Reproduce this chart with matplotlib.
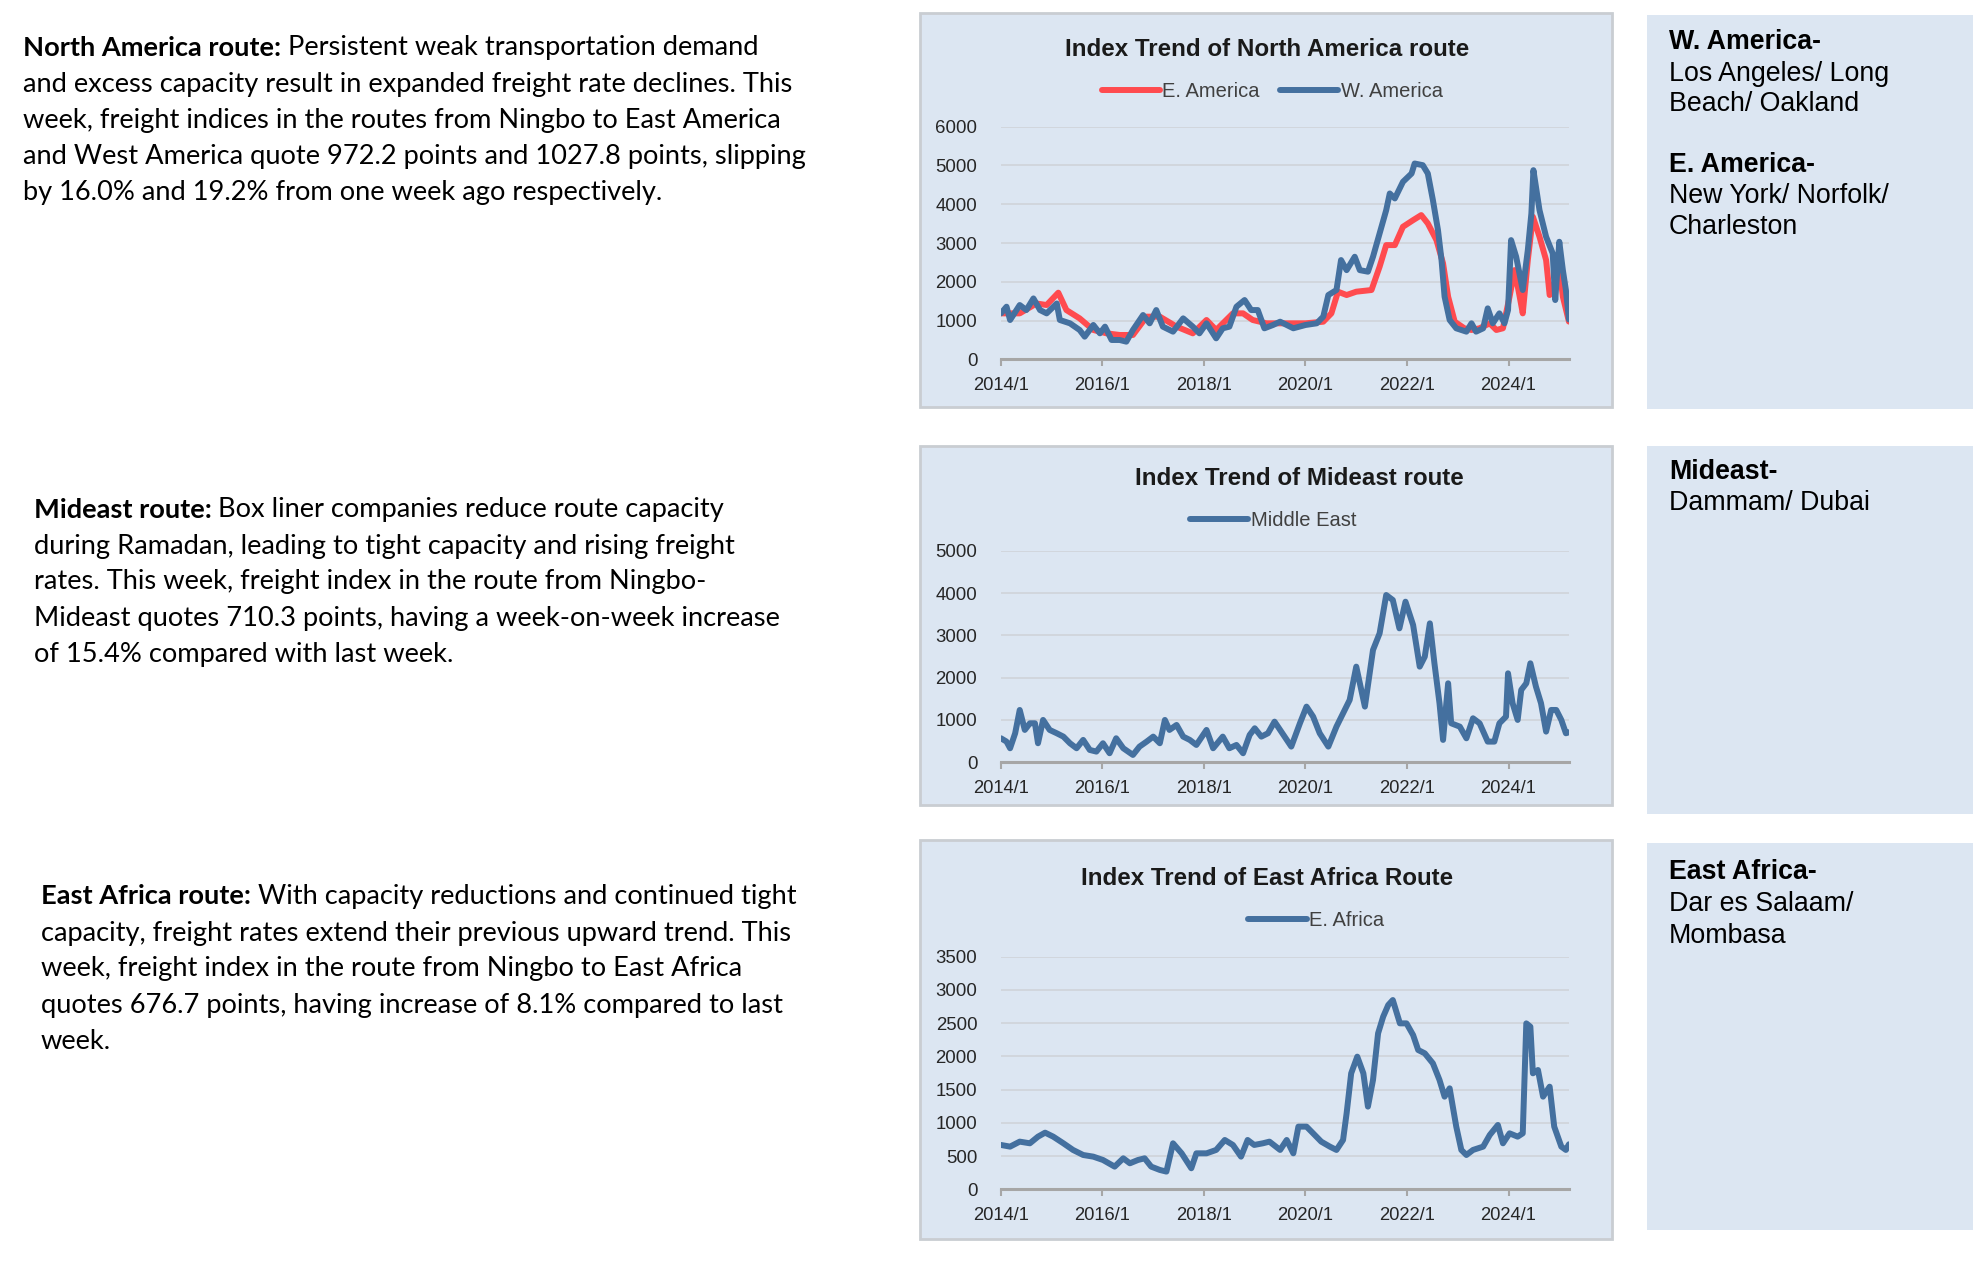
import matplotlib
matplotlib.use("Agg")
import matplotlib.pyplot as plt
from matplotlib.patches import Rectangle

# ---- data (decimal year, index points) ----
west_t = [2014.00, 2014.11, 2014.18, 2014.37, 2014.50, 2014.64, 2014.77, 2014.90, 2015.10, 2015.16,
          2015.36, 2015.55, 2015.65, 2015.82, 2015.95, 2016.05, 2016.18, 2016.34, 2016.47, 2016.60,
          2016.80, 2016.93, 2017.06, 2017.19, 2017.39, 2017.59, 2017.78, 2017.91, 2018.05, 2018.24,
          2018.37, 2018.50, 2018.64, 2018.80, 2018.93, 2019.06, 2019.19, 2019.36, 2019.50, 2019.76,
          2020.00, 2020.22, 2020.35, 2020.45, 2020.61, 2020.70, 2020.81, 2020.97, 2021.07, 2021.23,
          2021.33, 2021.46, 2021.59, 2021.66, 2021.76, 2021.92, 2022.09, 2022.15, 2022.31, 2022.41,
          2022.51, 2022.61, 2022.68, 2022.74, 2022.84, 2022.97, 2023.17, 2023.27, 2023.36, 2023.50,
          2023.59, 2023.69, 2023.82, 2023.92, 2023.99, 2024.05, 2024.15, 2024.28, 2024.38, 2024.45,
          2024.49, 2024.54, 2024.61, 2024.74, 2024.87, 2024.92, 2025.00, 2025.07, 2025.13, 2025.19]
west_v = [1185, 1357, 1014, 1400, 1270, 1570, 1270, 1185, 1440, 1014,
          928, 756, 584, 885, 670, 842, 498, 498, 455, 756,
          1142, 928, 1270, 842, 713, 1056, 842, 670, 928, 541,
          799, 842, 1357, 1529, 1270, 1270, 799, 885, 970, 800,
          885, 928, 1100, 1658, 1787, 2560, 2300, 2646, 2300, 2260,
          2646, 3247, 3848, 4278, 4150, 4579, 4793, 5051, 5008, 4793,
          4106, 3333, 2560, 1615, 1014, 799, 713, 928, 713, 799,
          1314, 928, 1185, 928, 1270, 3075, 2646, 1787, 2818, 3762,
          4879, 4450, 3848, 3161, 2732, 1529, 3032, 2302, 1787, 1028]

east_t = [2014.00, 2014.37, 2014.70, 2014.90, 2015.13, 2015.29, 2015.55, 2015.82, 2016.08, 2016.34,
          2016.60, 2016.87, 2017.13, 2017.46, 2017.78, 2018.05, 2018.24, 2018.57, 2018.77, 2018.96,
          2019.23, 2019.50, 2020.00, 2020.35, 2020.51, 2020.64, 2020.81, 2021.00, 2021.30, 2021.46,
          2021.59, 2021.76, 2021.92, 2022.12, 2022.28, 2022.41, 2022.58, 2022.71, 2022.81, 2022.94,
          2023.13, 2023.27, 2023.43, 2023.63, 2023.76, 2023.89, 2024.02, 2024.12, 2024.22, 2024.28,
          2024.38, 2024.48, 2024.61, 2024.74, 2024.81, 2024.90, 2025.00, 2025.07, 2025.19]
east_v = [1185, 1185, 1440, 1400, 1718, 1270, 1056, 756, 670, 627,
          627, 1100, 1100, 842, 670, 1014, 756, 1185, 1185, 1014,
          928, 928, 928, 970, 1185, 1744, 1658, 1744, 1787, 2388,
          2946, 2946, 3419, 3590, 3720, 3505, 3075, 2474, 1615, 970,
          800, 756, 800, 928, 756, 800, 1615, 2302, 1615, 1185,
          2560, 3676, 3161, 2560, 1658, 1958, 2388, 1615, 972]

mideast_t = [2014.00, 2014.11, 2014.18, 2014.28, 2014.37, 2014.47, 2014.57, 2014.67, 2014.73, 2014.83,
             2014.96, 2015.10, 2015.23, 2015.36, 2015.49, 2015.62, 2015.75, 2015.88, 2016.01, 2016.14,
             2016.27, 2016.41, 2016.60, 2016.73, 2016.87, 2017.00, 2017.13, 2017.23, 2017.32, 2017.46,
             2017.59, 2017.72, 2017.85, 2018.05, 2018.18, 2018.37, 2018.50, 2018.64, 2018.77, 2018.90,
             2019.00, 2019.13, 2019.26, 2019.39, 2019.50, 2019.72, 2019.89, 2020.02, 2020.15, 2020.28,
             2020.45, 2020.61, 2020.74, 2020.87, 2021.00, 2021.17, 2021.33, 2021.46, 2021.59, 2021.72,
             2021.85, 2021.97, 2022.12, 2022.25, 2022.35, 2022.45, 2022.54, 2022.64, 2022.71, 2022.81,
             2022.87, 2023.04, 2023.17, 2023.30, 2023.43, 2023.59, 2023.72, 2023.82, 2023.95, 2023.99,
             2024.08, 2024.18, 2024.25, 2024.35, 2024.43, 2024.54, 2024.64, 2024.74, 2024.84, 2024.94,
             2025.04, 2025.13, 2025.19]
mideast_v = [567, 488, 331, 685, 1236, 764, 921, 921, 449, 1000,
             764, 685, 606, 449, 331, 528, 291, 252, 449, 213,
             567, 331, 173, 370, 488, 606, 449, 1000, 764, 882,
             606, 528, 409, 764, 331, 606, 331, 409, 213, 646,
             803, 606, 685, 960, 764, 370, 921, 1315, 1079, 685,
             370, 842, 1157, 1472, 2260, 1315, 2654, 3047, 3953, 3835,
             3165, 3795, 3244, 2260, 2496, 3283, 2339, 1394, 528, 1866,
             921, 842, 567, 1039, 921, 488, 488, 921, 1079, 2102,
             1394, 1000, 1709, 1866, 2339, 1787, 1394, 724, 1236, 1236,
             1000, 685, 710]

africa_t = [2014.00, 2014.18, 2014.37, 2014.57, 2014.73, 2014.87, 2015.03, 2015.23, 2015.42, 2015.62,
            2015.82, 2016.01, 2016.24, 2016.41, 2016.54, 2016.70, 2016.83, 2016.96, 2017.13, 2017.26,
            2017.39, 2017.56, 2017.75, 2017.85, 2018.05, 2018.24, 2018.41, 2018.57, 2018.73, 2018.86,
            2018.99, 2019.16, 2019.29, 2019.50, 2019.63, 2019.76, 2019.86, 2020.02, 2020.15, 2020.31,
            2020.48, 2020.61, 2020.74, 2020.81, 2020.90, 2021.02, 2021.14, 2021.23, 2021.33, 2021.43,
            2021.53, 2021.63, 2021.72, 2021.86, 2021.99, 2022.12, 2022.22, 2022.35, 2022.51, 2022.64,
            2022.74, 2022.84, 2022.97, 2023.07, 2023.17, 2023.30, 2023.50, 2023.63, 2023.79, 2023.89,
            2024.02, 2024.18, 2024.28, 2024.35, 2024.43, 2024.48, 2024.58, 2024.68, 2024.81, 2024.90,
            2025.04, 2025.13, 2025.19]
africa_v = [667, 642, 717, 692, 792, 852, 792, 692, 592, 516,
            491, 441, 341, 466, 391, 441, 466, 341, 291, 266,
            692, 541, 316, 541, 541, 592, 742, 667, 491, 742,
            667, 692, 717, 592, 742, 541, 943, 943, 842, 717,
            642, 592, 742, 1143, 1745, 1996, 1745, 1244, 1645, 2347,
            2597, 2773, 2848, 2497, 2497, 2321, 2096, 2046, 1895, 1645,
            1394, 1519, 943, 592, 516, 592, 642, 817, 968, 692,
            842, 792, 842, 2497, 2447, 1745, 1795, 1394, 1544, 943,
            642, 592, 677]

year_ticks = [2014, 2016, 2018, 2020, 2022, 2024]
year_labels = ["2014/1", "2016/1", "2018/1", "2020/1", "2022/1", "2024/1"]

RED = "#FF4B4F"
BLUE = "#44709F"
PANEL = "#DCE6F2"
TXT = "#262626"
CHART_FONT = "Liberation Sans"
BODY_FONT = "Lato"

fig = plt.figure(figsize=(19.86, 12.66), dpi=100)


def box(x0, y0, x1, y1, edge=True):
    fig.patches.append(Rectangle((x0, y0), x1 - x0, y1 - y0, transform=fig.transFigure,
                                 facecolor=PANEL, edgecolor="#C9CDD2" if edge else "none",
                                 linewidth=2.0 if edge else 0, zorder=-5))


def chart(rect, series, ymax, ystep, title, title_x, title_y, leg_x, leg_y):
    ax = fig.add_axes(rect)
    ax.set_zorder(2)
    ax.set_facecolor("none")
    for t, v, c, lab in series:
        ax.plot(t, v, color=c, lw=4.3, label=lab, solid_capstyle="round",
                solid_joinstyle="round", zorder=3)
    ax.set_xlim(2014.0, 2025.19)
    ax.set_ylim(0, ymax)
    ax.set_yticks(range(0, ymax + 1, ystep))
    ax.set_xticks(year_ticks)
    ax.set_xticklabels(year_labels)
    for y in range(ystep, ymax + 1, ystep):
        ax.axhline(y, color="#D0D5DB", lw=1.3, zorder=1)
    for s in ["top", "right", "left"]:
        ax.spines[s].set_visible(False)
    ax.spines["bottom"].set_color("#A6A6A6")
    ax.spines["bottom"].set_linewidth(2.2)
    ax.tick_params(axis="y", length=0, pad=17, labelsize=13.4, labelcolor=TXT)
    ax.tick_params(axis="x", length=5, width=1.5, color="#A6A6A6", direction="out",
                   pad=8, labelsize=13.2, labelcolor=TXT)
    for lbl in ax.get_xticklabels() + ax.get_yticklabels():
        lbl.set_fontfamily(CHART_FONT)
    fig.text(title_x, title_y, title, ha="center", va="center", fontsize=17.4,
             fontweight="bold", family=CHART_FONT, color="#1A1A1A")
    ax.legend(loc="center", bbox_to_anchor=(leg_x, leg_y), bbox_transform=fig.transFigure,
              ncol=len(series), frameon=False, handlelength=2.9, handletextpad=0.12,
              columnspacing=1.0, prop={"family": CHART_FONT, "size": 14.5},
              labelcolor="#404040")
    return ax


# panels behind the charts and the port boxes
box(0.4632, 0.6785, 0.8116, 0.9897)
box(0.4632, 0.3641, 0.8116, 0.6477)
box(0.4632, 0.0213, 0.8116, 0.3365)
box(0.8293, 0.6769, 0.9934, 0.9882, edge=False)
box(0.8293, 0.3570, 0.9934, 0.6477, edge=False)
box(0.8293, 0.0284, 0.9934, 0.3341, edge=False)

chart([0.5040, 0.7162, 0.2860, 0.1837],
      [(east_t, east_v, RED, "E. America"), (west_t, west_v, BLUE, "W. America")],
      6000, 1000, "Index Trend of North America route", 0.638, 0.961, 0.6406, 0.928)
chart([0.5040, 0.3979, 0.2860, 0.1671],
      [(mideast_t, mideast_v, BLUE, "Middle East")],
      5000, 1000, "Index Trend of Mideast route", 0.6545, 0.622, 0.641, 0.589)
chart([0.5040, 0.0606, 0.2860, 0.1837],
      [(africa_t, africa_v, BLUE, "E. Africa")],
      3500, 500, "Index Trend of East Africa Route", 0.638, 0.306, 0.6628, 0.273)

# ---- commentary on the left ----
BODY = 19.6


def para(x, ys, bold, first, rest):
    t = fig.text(x, ys[0], bold, fontsize=BODY, fontweight="bold", family=BODY_FONT,
                 color="black", va="center")
    fig.add_artist(plt.Annotation(first, xy=(1, 0.5), xycoords=t, va="center",
                                  fontsize=BODY, family=BODY_FONT, color="black"))
    for y, line in zip(ys[1:], rest):
        fig.text(x, y, line, fontsize=BODY, family=BODY_FONT, color="black", va="center")


para(0.0116, [0.9621, 0.9333, 0.9048, 0.8760, 0.8476], "North America route: ",
     "Persistent weak transportation demand",
     ["and excess capacity result in expanded freight rate declines. This",
      "week, freight indices in the routes from Ningbo to East America",
      "and West America quote 972.2 points and 1027.8 points, slipping",
      "by 16.0% and 19.2% from one week ago respectively."])
para(0.0171, [0.5972, 0.5687, 0.5403, 0.5118, 0.4834], "Mideast route: ",
     "Box liner companies reduce route capacity",
     ["during Ramadan, leading to tight capacity and rising freight",
      "rates. This week, freight index in the route from Ningbo-",
      "Mideast quotes 710.3 points, having a week-on-week increase",
      "of 15.4% compared with last week."])
para(0.0206, [0.2919, 0.2630, 0.2346, 0.2058, 0.1773], "East Africa route: ",
     "With capacity reductions and continued tight",
     ["capacity, freight rates extend their previous upward trend. This",
      "week, freight index in the route from Ningbo to East Africa",
      "quotes 676.7 points, having increase of 8.1% compared to last",
      "week."])

# ---- port boxes on the right ----
PORT = 19.3
ports = [
    (0.9668, "W. America-", True), (0.9419, "Los Angeles/ Long", False),
    (0.9179, "Beach/ Oakland", False), (0.8697, "E. America-", True),
    (0.8448, "New York/ Norfolk/", False), (0.8207, "Charleston", False),
    (0.6272, "Mideast-", True), (0.6027, "Dammam/ Dubai", False),
    (0.3109, "East Africa-", True), (0.2859, "Dar es Salaam/", False),
    (0.2607, "Mombasa", False),
]
for y, s, b in ports:
    fig.text(0.8404, y, s, fontsize=PORT, fontweight="bold" if b else "normal",
             family=CHART_FONT, color="black", va="center")

fig.savefig("out.png", dpi=100, facecolor="white")
